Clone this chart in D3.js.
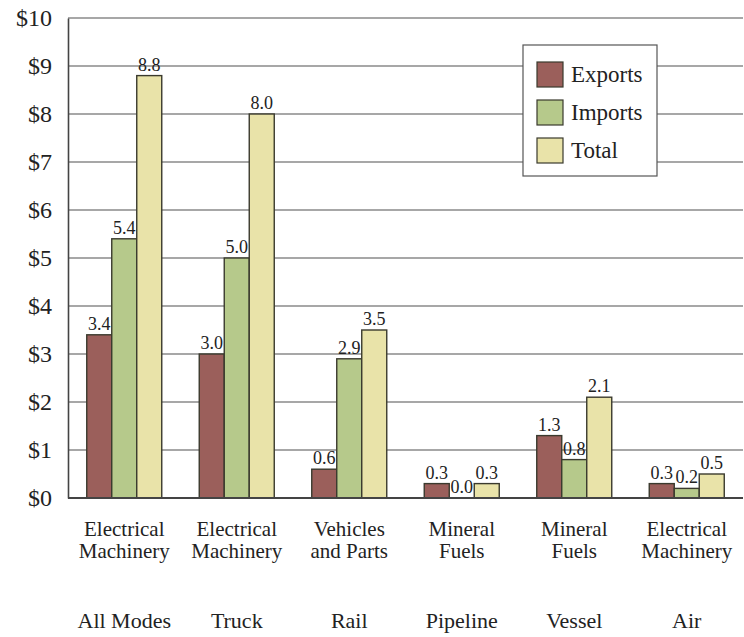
<!DOCTYPE html>
<html>
<head>
<meta charset="utf-8">
<script src="https://cdn.jsdelivr.net/npm/d3@7"></script>
<style>
  html, body { margin: 0; padding: 0; background: #fff; }
  svg { display: block; }
  text { font-family: "Liberation Serif", "Times New Roman", serif; fill: #222; }
</style>
</head>
<body>
<div id="chart"></div>
<script>
// Top commodity by mode, billions of dollars
const modes = ["All Modes", "Truck", "Rail", "Pipeline", "Vessel", "Air"];
const commodities = [
  ["Electrical", "Machinery"],
  ["Electrical", "Machinery"],
  ["Vehicles", "and Parts"],
  ["Mineral", "Fuels"],
  ["Mineral", "Fuels"],
  ["Electrical", "Machinery"]
];
const seriesNames = ["Exports", "Imports", "Total"];
const exportsVals = [3.4, 3.0, 0.6, 0.3, 1.3, 0.3];
const importsVals = [5.4, 5.0, 2.9, 0.0, 0.8, 0.2];
const totalVals   = [8.8, 8.0, 3.5, 0.3, 2.1, 0.5];
const yTicks = [0, 1, 2, 3, 4, 5, 6, 7, 8, 9, 10];
const colors = ["#9b5f5b", "#b6c98b", "#e9e3a9"];

const seriesVals = [exportsVals, importsVals, totalVals];

const W = 744, H = 637;
const margin = { left: 68, right: 1, top: 18, bottom: 139 };

const svg = d3.select("#chart").append("svg")
  .attr("width", W).attr("height", H);

const x0 = d3.scaleBand()
  .domain(d3.range(modes.length))
  .range([margin.left, W - margin.right])
  .paddingInner(1 / 3)
  .paddingOuter(1 / 6);

const x1 = d3.scaleBand()
  .domain(d3.range(seriesNames.length))
  .range([0, x0.bandwidth()]);

const y = d3.scaleLinear().domain([0, 10]).range([H - margin.bottom, margin.top]);

// horizontal gridlines
svg.append("g")
  .selectAll("line")
  .data(yTicks.filter(d => d > 0))
  .join("line")
  .attr("x1", margin.left).attr("x2", W - margin.right)
  .attr("y1", d => y(d)).attr("y2", d => y(d))
  .attr("stroke", "#8a8a8a").attr("stroke-width", 1.3);

// y axis
const yAxis = d3.axisLeft(y)
  .tickValues(yTicks)
  .tickFormat(d => "$" + d)
  .tickSize(0)
  .tickPadding(16);
const gy = svg.append("g")
  .attr("transform", `translate(${margin.left},0)`)
  .call(yAxis);
gy.select(".domain").attr("stroke", "#444").attr("stroke-width", 1.6);
gy.selectAll("text")
  .attr("font-size", 24)
  .attr("fill", "#222")
  .attr("dy", "0.3em");

// bars
const groups = svg.append("g")
  .selectAll("g")
  .data(modes.map((m, i) => i))
  .join("g")
  .attr("transform", i => `translate(${x0(i)},0)`);

groups.selectAll("rect")
  .data(i => seriesVals.map((vals, s) => ({ s, v: vals[i] })))
  .join("rect")
  .attr("x", d => x1(d.s))
  .attr("width", x1.bandwidth())
  .attr("y", d => y(d.v))
  .attr("height", d => y(0) - y(d.v))
  .attr("fill", d => colors[d.s])
  .attr("stroke", "#3a3a2e")
  .attr("stroke-width", d => d.v > 0 ? 1.4 : 0);

groups.selectAll("text.val")
  .data(i => seriesVals.map((vals, s) => ({ s, v: vals[i] })))
  .join("text")
  .attr("class", "val")
  .attr("x", d => x1(d.s) + x1.bandwidth() / 2)
  .attr("y", d => y(d.v) - 5)
  .attr("text-anchor", "middle")
  .attr("font-size", 18)
  .attr("fill", "#333")
  .text(d => d.v.toFixed(1));

// x axis baseline
svg.append("line")
  .attr("x1", margin.left).attr("x2", W - margin.right)
  .attr("y1", y(0)).attr("y2", y(0))
  .attr("stroke", "#444").attr("stroke-width", 2);

// commodity labels (two lines) and mode labels
const xl = svg.append("g")
  .selectAll("g")
  .data(modes.map((m, i) => i))
  .join("g")
  .attr("transform", i => `translate(${x0(i) + x0.bandwidth() / 2},0)`);

xl.append("text")
  .attr("text-anchor", "middle")
  .attr("font-size", 21)
  .selectAll("tspan")
  .data(i => commodities[i])
  .join("tspan")
  .attr("x", 0)
  .attr("y", (d, k) => 536 + k * 22)
  .text(d => d);

xl.append("text")
  .attr("text-anchor", "middle")
  .attr("font-size", 22)
  .attr("y", 628)
  .text(i => modes[i]);

// legend
const legend = svg.append("g");
legend.append("rect")
  .attr("x", 523).attr("y", 45)
  .attr("width", 134).attr("height", 131)
  .attr("fill", "#fff").attr("stroke", "#555").attr("stroke-width", 1.2);
const li = legend.selectAll("g.item")
  .data(seriesNames)
  .join("g")
  .attr("class", "item")
  .attr("transform", (d, i) => `translate(537,${62 + i * 38})`);
li.append("rect")
  .attr("width", 26).attr("height", 25)
  .attr("fill", (d, i) => colors[i])
  .attr("stroke", "#3a3a2e").attr("stroke-width", 1.2);
li.append("text")
  .attr("x", 34).attr("y", 20)
  .attr("font-size", 23)
  .text(d => d);
</script>
</body>
</html>
